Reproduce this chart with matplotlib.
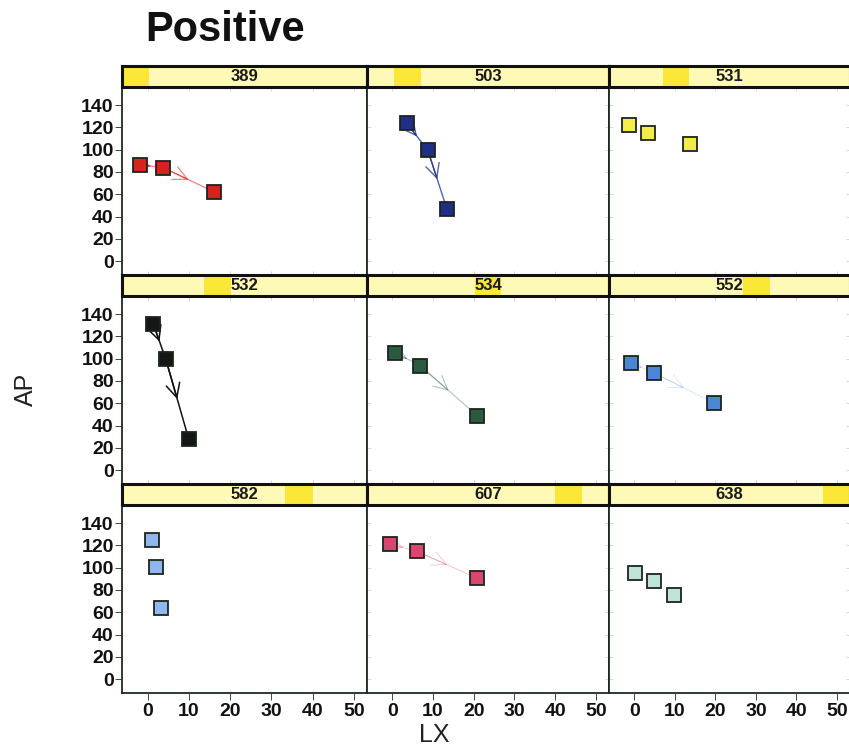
import matplotlib
matplotlib.use("Agg")
import matplotlib.pyplot as plt
from matplotlib.patches import Rectangle
from matplotlib.font_manager import FontProperties

# Subjects (panel order: left-to-right, top-to-bottom)
subjects = ["389", "503", "531", "532", "534", "552", "582", "607", "638"]

# LX / AP trajectories, three visits per subject
lx = [
    [-1.9, 3.7, 16.2],
    [3.5, 8.7, 13.4],
    [-1.2, 3.4, 13.7],
    [1.4, 4.4, 10.0],
    [0.7, 6.8, 20.9],
    [-0.7, 4.9, 19.7],
    [1.0, 2.1, 3.2],
    [-0.6, 6.1, 20.9],
    [0.2, 5.0, 9.9],
]
ap = [
    [86.5, 84.0, 62.0],
    [123.8, 99.8, 47.0],
    [122.3, 115.0, 105.5],
    [131.0, 99.8, 27.6],
    [105.5, 93.8, 48.8],
    [96.2, 87.2, 60.3],
    [125.1, 100.4, 63.4],
    [121.5, 114.6, 90.5],
    [95.0, 88.2, 75.3],
]

x_ticks = [0, 10, 20, 30, 40, 50]
y_ticks = [0, 20, 40, 60, 80, 100, 120, 140]

fills = ["#d8221e", "#1f2f86", "#f4ec4a", "#161616", "#2c5a3e",
         "#4a86d4", "#8fb6ee", "#d9466e", "#bfe3d8"]
# strength of the connecting trajectory arrows
arrow_alpha = [0.55, 0.75, 0.0, 1.0, 0.35, 0.2, 0.0, 0.3, 0.0]
arrow_width = [0.9, 1.0, 0.0, 1.1, 0.8, 0.7, 0.0, 0.7, 0.0]

W, H = 849, 749
fig = plt.figure(figsize=(W / 100, H / 100), dpi=100)
fig.patch.set_facecolor("white")

col_left = [122, 367, 609]
col_w = [245, 242, 241]
row_strip_top = [66, 275, 484]
strip_h = 21
panel_h = 188
frame_col = "#1d2b22"

narrow = ["Liberation Sans Narrow", "Liberation Sans", "DejaVu Sans"]
tick_fp = FontProperties(family=narrow, weight="bold", size=14)

for k, sid in enumerate(subjects):
    r, c = divmod(k, 3)
    x0 = col_left[c]
    w = col_w[c]
    ytop = row_strip_top[r]
    # panel
    ax = fig.add_axes([x0 / W, 1 - (ytop + strip_h + panel_h) / H, w / W, panel_h / H])
    ax.set_xlim(-6.2, 53.2)
    ax.set_ylim(-12.5, 156.3)
    for s in ax.spines.values():
        s.set_color(frame_col)
        s.set_linewidth(1.3)
    ax.set_xticks(x_ticks)
    ax.set_yticks(y_ticks)
    ax.tick_params(axis="both", which="both", direction="in", length=3,
                   color="#d0d0d0", width=0.6, top=True, right=True,
                   labelleft=False, labelbottom=False)
    if c == 0:
        ax.tick_params(axis="y", left=True, direction="out", length=5,
                       color=frame_col, labelleft=True, pad=1)
        for lab in ax.get_yticklabels():
            lab.set_fontproperties(tick_fp)
            lab.set_color("#111111")
    if r == 2:
        ax.tick_params(axis="x", bottom=True, direction="out", length=5,
                       color=frame_col, labelbottom=True, pad=2)
        for lab in ax.get_xticklabels():
            lab.set_fontproperties(tick_fp)
            lab.set_color("#111111")

    xs, ys = lx[k], ap[k]
    # trajectory with an arrow head half-way along each step
    if arrow_alpha[k] > 0:
        lc = fills[k] if k != 3 else "#111111"
        for i in range(len(xs) - 1):
            mx, my = (xs[i] + xs[i + 1]) / 2, (ys[i] + ys[i + 1]) / 2
            ax.plot([xs[i], xs[i + 1]], [ys[i], ys[i + 1]], color=lc,
                    lw=arrow_width[k], alpha=arrow_alpha[k], zorder=2)
            ax.annotate("", xy=(mx, my), xytext=(xs[i], ys[i]),
                        arrowprops=dict(arrowstyle="->,head_length=1.0,head_width=0.5",
                                        color=lc, lw=arrow_width[k], alpha=arrow_alpha[k],
                                        shrinkA=0, shrinkB=0), zorder=2)
    ax.plot(xs, ys, linestyle="none", marker="s", markersize=10.5,
            markerfacecolor=fills[k], markeredgecolor="#1c241e",
            markeredgewidth=1.3, zorder=3)

    # strip with shingle-style highlight for the subject's position
    sax = fig.add_axes([x0 / W, 1 - (ytop + strip_h) / H, w / W, strip_h / H])
    sax.set_xlim(0, 1)
    sax.set_ylim(0, 1)
    sax.set_xticks([])
    sax.set_yticks([])
    sax.set_facecolor("#fff9b8")
    n = len(subjects)
    sax.add_patch(Rectangle((k / n, 0), 1 / n, 1, facecolor="#fbe62a",
                            edgecolor="none", alpha=0.9))
    for s in sax.spines.values():
        s.set_color("#111111")
        s.set_linewidth(2.2)
    sax.text(0.5, 0.5, sid, ha="center", va="center", fontsize=12,
             fontweight="bold", color="#1a1a1a", family=narrow)

fig.text(145 / W, 1 - 30 / H, "Positive", ha="left", va="center",
         fontsize=30, fontweight="bold", family="Liberation Sans", color="#111111")
fig.text(26 / W, 1 - 389 / H, "AP", ha="center", va="center", rotation=90,
         fontsize=18, family="Liberation Sans", color="#222222")
fig.text(434 / W, 1 - 735 / H, "LX", ha="center", va="center",
         fontsize=18, family="Liberation Sans", color="#222222")

fig.savefig("out.png", dpi=100)
